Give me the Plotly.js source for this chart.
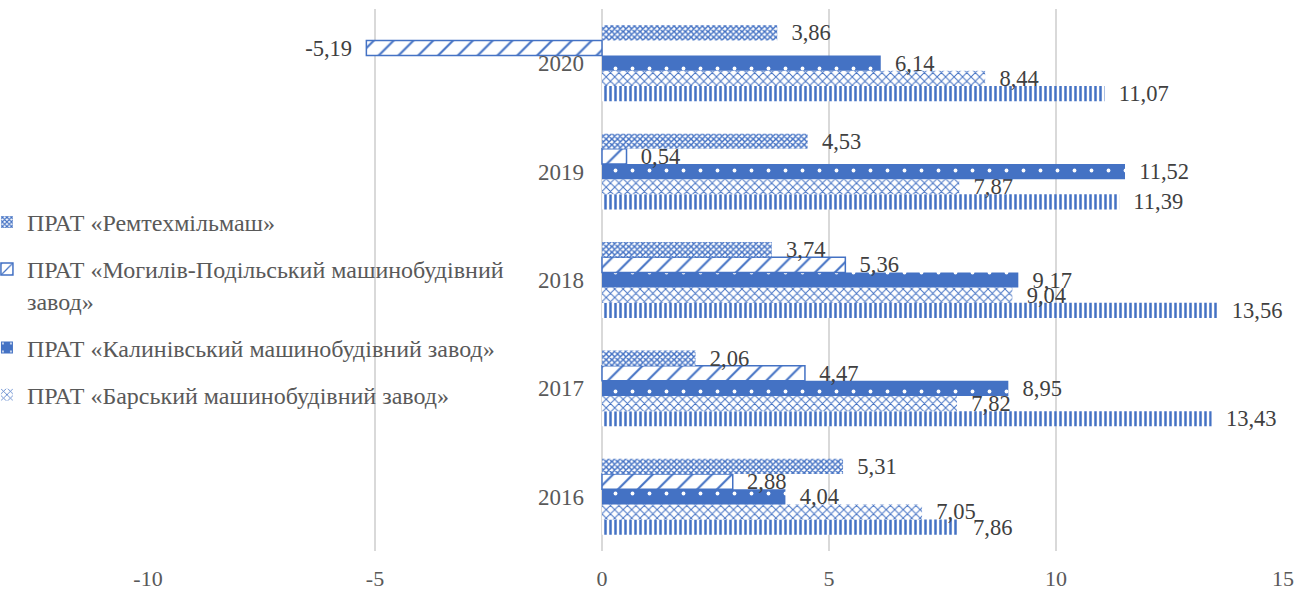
<!DOCTYPE html>
<html>
<head>
<meta charset="utf-8">
<script src="https://cdn.plot.ly/plotly-3.0.1.min.js"></script>
<style>html,body{margin:0;padding:0;background:#fff;}#chart{width:1311px;height:591px;}</style>
</head>
<body>
<div id="chart"></div>
<script>
const years = ['2016', '2017', '2018', '2019', '2020'];
const remtekh = [5.31, 2.06, 3.74, 4.53, 3.86];
const mohyliv = [2.88, 4.47, 5.36, 0.54, -5.19];
const kalyniv = [4.04, 8.95, 9.17, 11.52, 6.14];
const barskyi = [7.05, 7.82, 9.04, 7.87, 8.44];
const fifth = [7.86, 13.43, 13.56, 11.39, 11.07];
const names = {
  remtekh: 'ПРАТ «Ремтехмільмаш»',
  mohyliv: 'ПРАТ «Могилів-Подільський машинобудівний<br>завод»',
  kalyniv: 'ПРАТ «Калинівський машинобудівний завод»',
  barskyi: 'ПРАТ «Барський машинобудівний завод»',
  fifth: ''
};
const tickVals = [-10, -5, 0, 5, 10, 15];
const tickText = ['-10', '-5', '0', '5', '10', '15'];

const BLUE = '#4472C4';
const SERIF = '"Liberation Serif", "Times New Roman", Tinos, serif';
const pad = '\u00a0\u00a0';
function labels(arr) {
  return arr.map(v => {
    const s = (v < 0 ? '-' : '') + Math.abs(v).toFixed(2).replace('.', ',');
    return v < 0 ? s + pad : pad + s;
  });
}
const xRange = [-10, 15];

function trace(vals, name, pattern, line, legend, rank) {
  return {
    type: 'bar', orientation: 'h', y: years, x: vals, name: name,
    legendgroup: 'g' + rank, legendrank: rank, showlegend: legend,
    text: labels(vals), textposition: 'outside', constraintext: 'none', cliponaxis: false,
    textfont: {family: SERIF, size: 22.5, color: '#404040'},
    marker: {color: BLUE, pattern: pattern, line: line},
    hoverinfo: 'x+name'
  };
}

const data = [
  trace(fifth, names.fifth, {shape: '|', size: 5, solidity: 0.5, fgcolor: BLUE, bgcolor: '#ffffff'}, {width: 0}, false, 5),
  trace(barskyi, names.barskyi, {shape: 'x', size: 6, solidity: 0.3, fgcolor: BLUE, bgcolor: '#ffffff'}, {width: 0}, true, 4),
  trace(kalyniv, names.kalyniv, {shape: '.', size: 17, solidity: 0.04, fgcolor: '#ffffff', bgcolor: BLUE}, {width: 0}, true, 3),
  trace(mohyliv, names.mohyliv, {shape: '/', size: 14, solidity: 0.15, fgcolor: BLUE, bgcolor: '#ffffff'}, {width: 1.5, color: BLUE}, true, 2),
  trace(remtekh, names.remtekh, {shape: 'x', size: 4, solidity: 0.6, fgcolor: BLUE, bgcolor: '#ffffff'}, {width: 0}, true, 1)
];

const layout = {
  width: 1311, height: 591,
  margin: {l: 148, r: 28, t: 9, b: 40, autoexpand: false},
  paper_bgcolor: '#ffffff', plot_bgcolor: '#ffffff',
  barmode: 'group', bargap: 0.3, bargroupgap: 0,
  font: {family: SERIF, color: '#595959'},
  xaxis: {
    range: xRange, tickvals: tickVals, ticktext: tickText,
    showgrid: true, gridcolor: '#d9d9d9', gridwidth: 1.3,
    zeroline: true, zerolinecolor: '#d9d9d9', zerolinewidth: 1.3,
    showline: false, ticks: '', ticklabelstandoff: 12,
    tickfont: {family: SERIF, size: 22, color: '#595959'}
  },
  yaxis: {
    type: 'category', anchor: 'free',
    position: (0 - xRange[0]) / (xRange[1] - xRange[0]),
    showgrid: false, showline: false, ticks: '', ticklabelstandoff: 18,
    tickfont: {family: SERIF, size: 23, color: '#595959'}
  },
  showlegend: true,
  legend: {
    x: -0.1419, xanchor: 'left', y: 0.648, yanchor: 'top',
    traceorder: 'grouped', tracegroupgap: 13, valign: 'top',
    bgcolor: 'rgba(0,0,0,0)', itemwidth: 30,
    font: {family: SERIF, size: 24, color: '#595959'}
  }
};

Plotly.newPlot('chart', data, layout, {displayModeBar: false, staticPlot: true});
</script>
</body>
</html>
